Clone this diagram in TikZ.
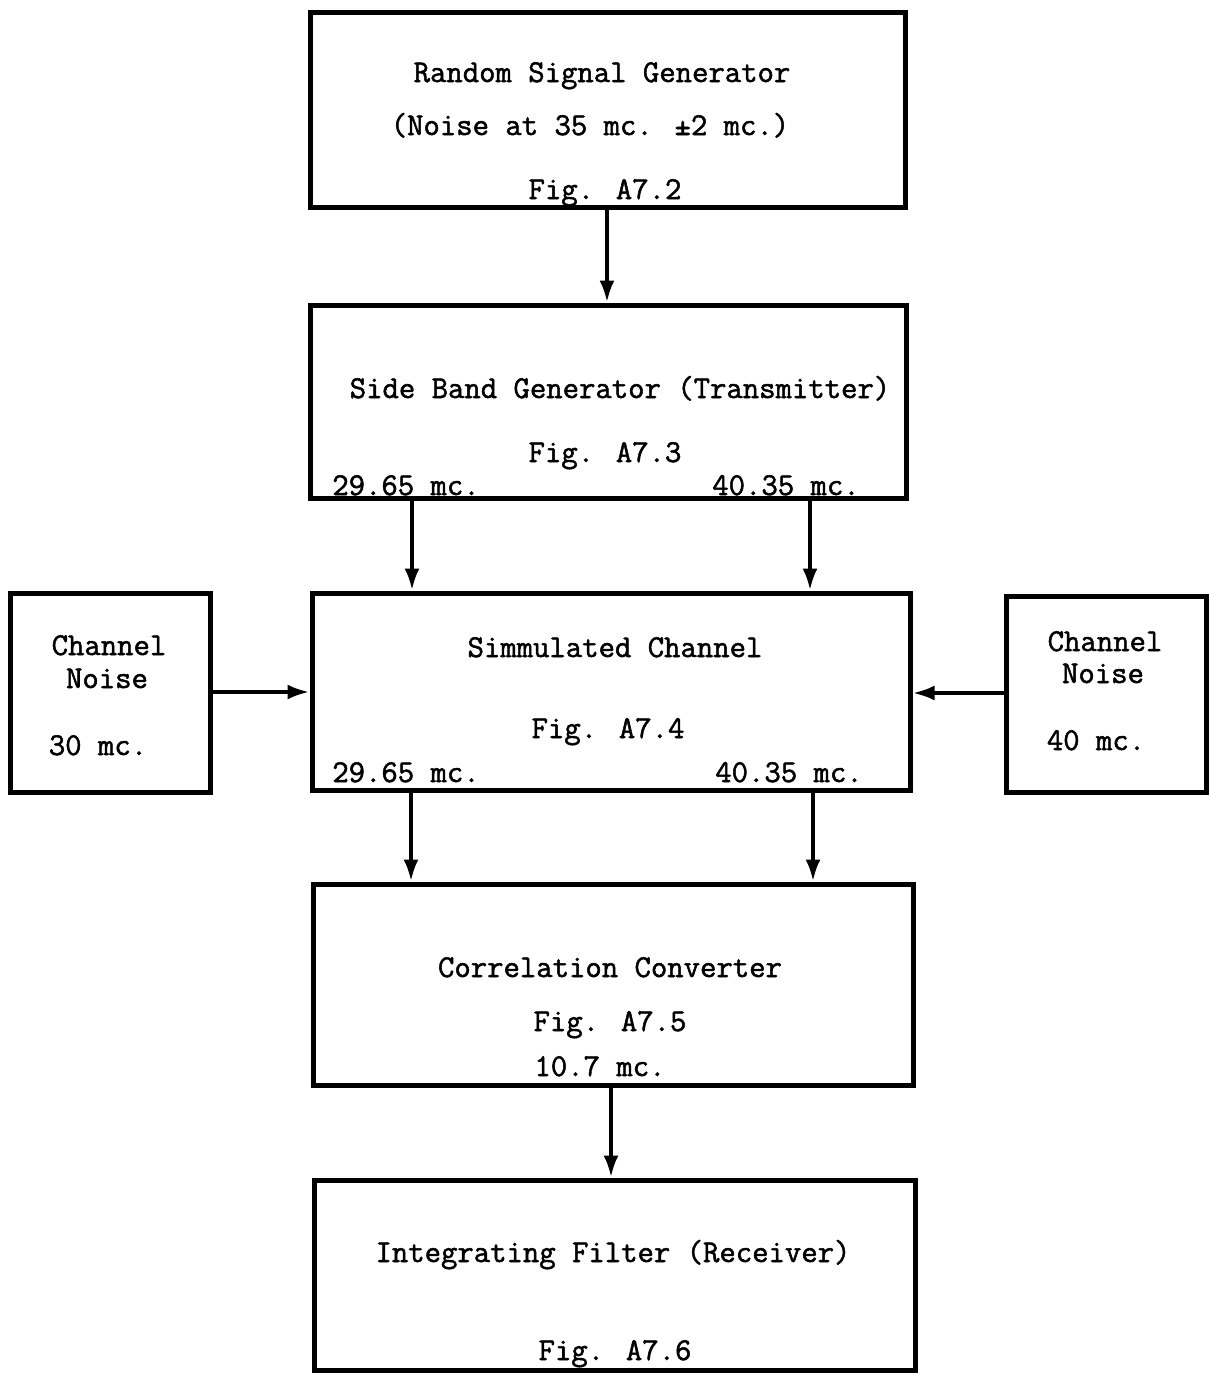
\documentclass[tikz,border=0pt]{standalone}
\usepackage{fontspec}
\newfontfamily\typew{Latin Modern Mono}[AutoFakeBold=1.6]
\usetikzlibrary{arrows.meta}
\tikzset{
  box/.style={draw, line width=5pt, inner sep=0pt, rectangle},
  lbl/.style={anchor=base, inner sep=0pt, font=\fontsize{31.8}{34}\selectfont\typew\bfseries},
  arr/.style={line width=4pt, -{Latex[length=22pt,width=15pt]}}
}
\begin{document}
\begin{tikzpicture}[x=1pt,y=-1pt]
\useasboundingbox (0,0) rectangle (1209,1374);
% boxes
\node[box, minimum width=595pt, minimum height=195pt] (rsg) at (607.5,109.5) {};
\node[box, minimum width=596pt, minimum height=193pt] (sbg) at (608,401.5) {};
\node[box, minimum width=598pt, minimum height=197pt] (sc) at (611,691.5) {};
\node[box, minimum width=200pt, minimum height=199pt] (cnl) at (110,692.5) {};
\node[box, minimum width=200pt, minimum height=196pt] (cnr) at (1106,694) {};
\node[box, minimum width=600pt, minimum height=201pt] (cc) at (613,984.5) {};
\node[box, minimum width=601pt, minimum height=190pt] (if) at (614.5,1275) {};
% texts
\node[lbl] (t1) at (602,82) {Random Signal Generator};
\node[lbl] (t2) at (590,135) {(Noise at 35 mc. ±2 mc.)};
\node[lbl] (t3) at (605,199) {Fig. A7.2};
\node[lbl] (t4) at (620,398) {Side Band Generator (Transmitter)};
\node[lbl] (t5) at (605,462) {Fig. A7.3};
\node[lbl] (t6) at (406,495) {29.65 mc.};
\node[lbl] (t7) at (786,495) {40.35 mc.};
\node[lbl] (t8) at (615,657) {Simmulated Channel};
\node[lbl] (t9) at (608,738) {Fig. A7.4};
\node[lbl] (t10) at (406,782) {29.65 mc.};
\node[lbl] (t11) at (789,782) {40.35 mc.};
\node[lbl] (t12) at (109,655) {Channel};
\node[lbl] (t13) at (107,688) {Noise};
\node[lbl] (t14) at (98,755) {30 mc.};
\node[lbl] (t15) at (1105,651) {Channel};
\node[lbl] (t16) at (1103,683) {Noise};
\node[lbl] (t17) at (1096,750) {40 mc.};
\node[lbl] (t18) at (610,977) {Correlation Converter};
\node[lbl] (t19) at (610,1031) {Fig. A7.5};
\node[lbl] (t20) at (600,1076) {10.7 mc.};
\node[lbl] (t21) at (613,1262) {Integrating Filter (Receiver)};
\node[lbl] (t22) at (615,1360) {Fig. A7.6};
% connector positions
\coordinate (a1) at (607,0);
\coordinate (a2) at (412,0);
\coordinate (a3) at (810,0);
\coordinate (a4) at (411,0);
\coordinate (a5) at (813,0);
\coordinate (a6) at (611,0);
\coordinate (h1) at (0,692);
\coordinate (h2) at (0,693);
% connectors
\draw[arr] (rsg.south -| a1) -- (sbg.north -| a1);
\draw[arr] (sbg.south -| a2) -- (sc.north -| a2);
\draw[arr] (sbg.south -| a3) -- (sc.north -| a3);
\draw[arr] (cnl.east |- h1) -- (sc.west |- h1);
\draw[arr] (cnr.west |- h2) -- (sc.east |- h2);
\draw[arr] (sc.south -| a4) -- (cc.north -| a4);
\draw[arr] (sc.south -| a5) -- (cc.north -| a5);
\draw[arr] (cc.south -| a6) -- (if.north -| a6);
\end{tikzpicture}
\end{document}
